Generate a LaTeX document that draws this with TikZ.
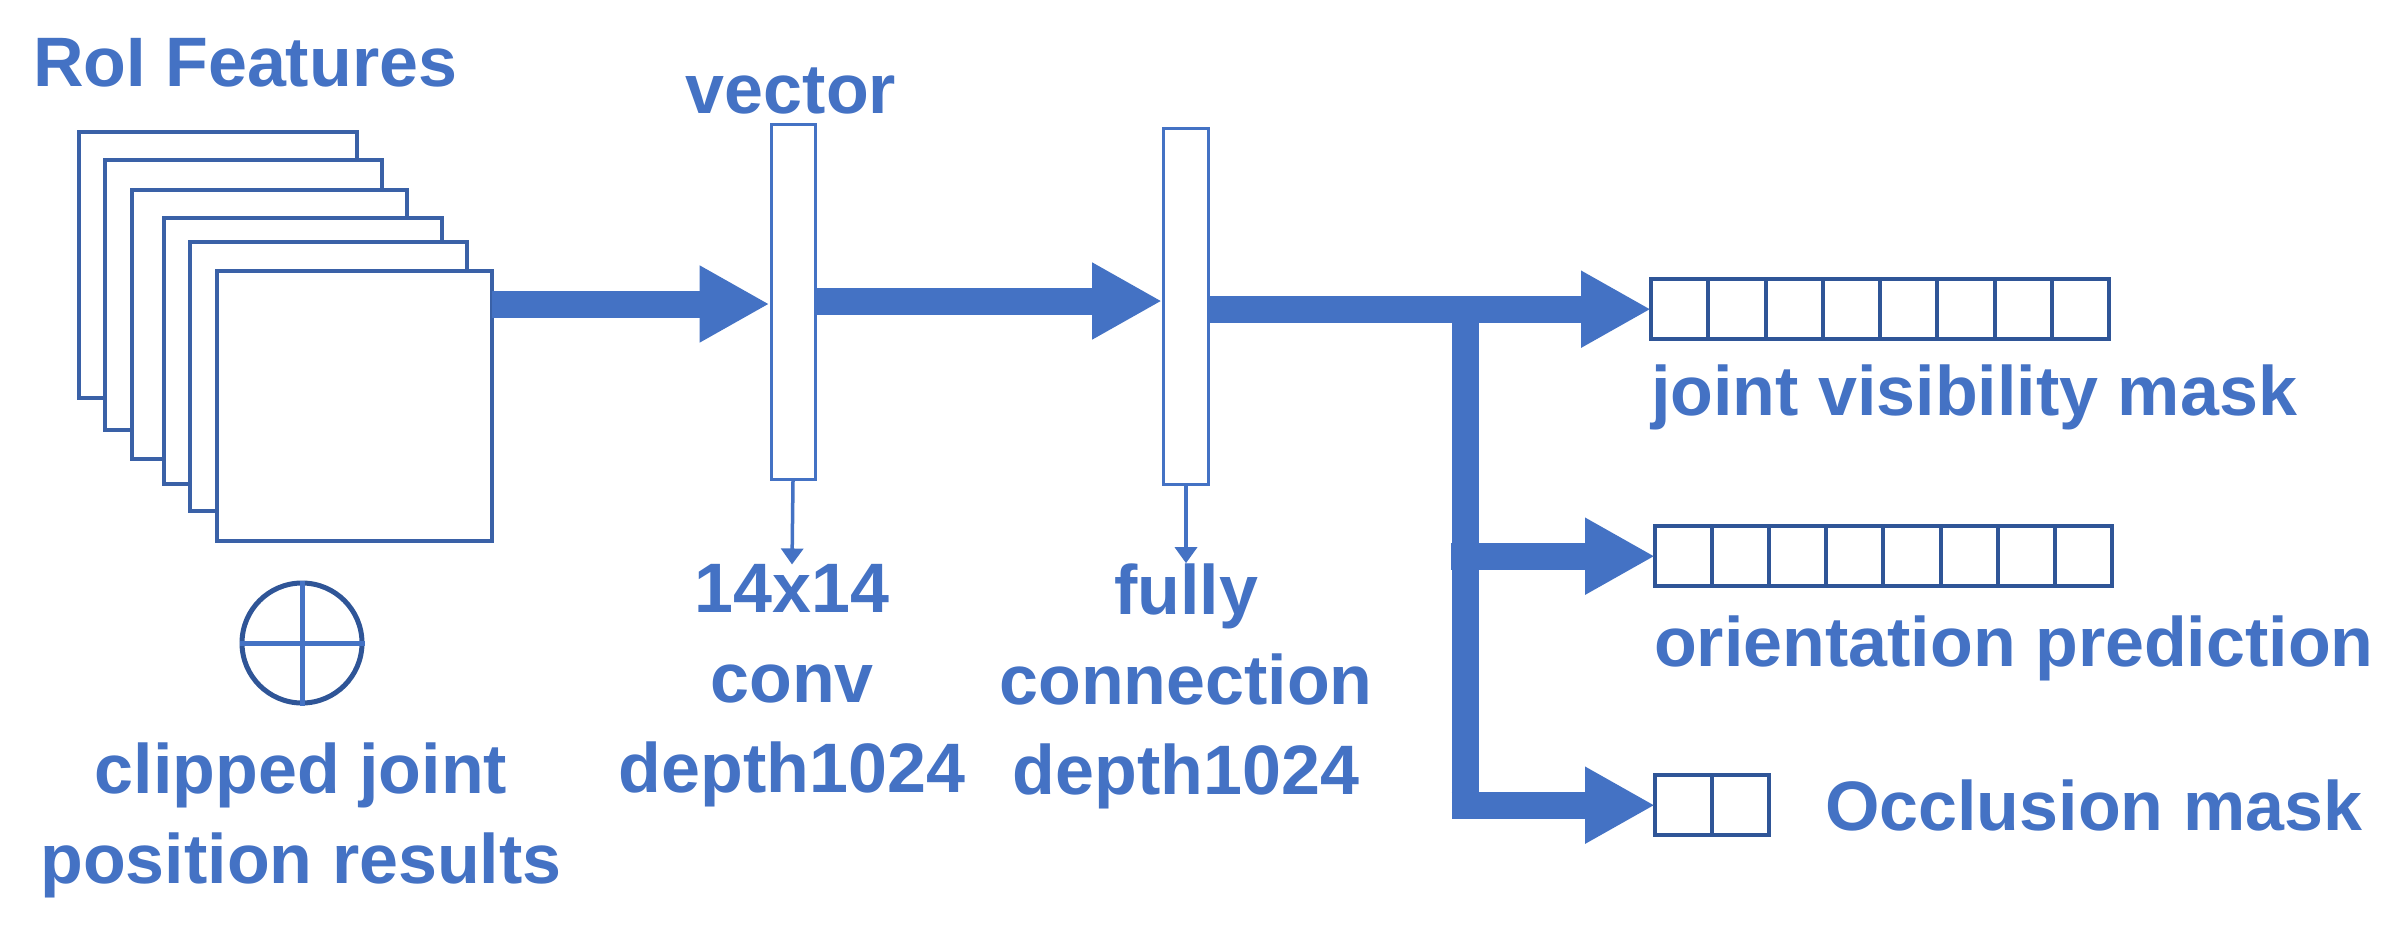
\documentclass[tikz,border=0pt]{standalone}
\usepackage{fontspec}
\setmainfont{Liberation Sans}
\usetikzlibrary{arrows.meta}
\definecolor{cb}{HTML}{4472C4}
\definecolor{cd}{HTML}{2F5597}
\begin{document}
\begin{tikzpicture}[x=1pt,y=-1pt,
  txt/.style={text=cb,font=\fontsize{70}{90}\selectfont\bfseries,inner sep=0pt,align=center},
  frame/.style={draw=cb!85!black,line width=3.5pt,fill=white},
  bar/.style={draw=cb,line width=3pt,fill=white},
  fat/.style={draw=cb,line width=27pt,-{Triangle[length=70pt,width=72pt]}},
  thin/.style={draw=cb,line width=3.5pt,-{Triangle[length=16pt,width=22pt]}},
  cell/.style={draw=cd,line width=4pt,fill=white}]
\useasboundingbox (0,0) rectangle (2395,935);
\fill[white] (0,0) rectangle (2395,935);
\node[txt,anchor=base west] (roi) at (33,86) {RoI Features};
\foreach \i/\a/\b/\c/\d in {1/79/132/357/398,2/105/160/382/430,3/132/190/407/459,4/164/218/442/484,5/190/242/467/511,6/217/271/492/541}{
  \draw[frame] (\a,\b) rectangle (\c,\d);
  \coordinate (f\i) at (\c,304);
}
\node[draw=cd,line width=5pt,circle,minimum size=120pt,inner sep=0pt] (op) at (302,643) {};
\draw[cb,line width=5pt] (op.north) -- (op.south) (op.west) -- (op.east);
\node[txt] (clip) at (301,820) {clipped joint\\position results};
\node[bar,minimum width=44pt,minimum height=355pt,inner sep=0pt] (bar1) at (793,302) {};
\node[bar,minimum width=45pt,minimum height=356pt,inner sep=0pt] (bar2) at (1186,306) {};
\node[txt,anchor=base] (vec) at (791,113) {vector};
\node[txt] (conv) at (792,686) {14x14\\conv\\depth1024};
\node[txt] (fc) at (1186,686) {fully\\connection\\depth1024};
\draw[thin] (bar1.south) -- (conv.north);
\draw[thin] (bar2.south) -- (fc.north);
\draw[fat] (f6) -- (bar1.west|-f6);
\draw[fat] (bar1.east|-0,301) -- (bar2.west|-0,301);
% output boxes
\foreach \n/\x/\y/\k/\w in {b1/1651/279/8/57.25,b2/1655/526/8/57.1,b3/1655/775/2/57}{
  \foreach \j in {1,...,\k}{
    \draw[cell] ({\x+(\j-1)*\w},\y) rectangle ({\x+\j*\w},{\y+60});
  }
  \node[inner sep=0pt,minimum width=\k*\w*1pt,minimum height=60pt,anchor=north west] (\n) at (\x,\y) {};
}
\coordinate (t1) at (1465,309);
\coordinate (t3) at (1465,818.5);
\draw[draw=cb,line width=27pt] (bar2.east|-t1) -- (t1) -- (t3);
\draw[fat] (b1.west-|1451,0) -- (b1.west);
\draw[fat] (b2.west-|1451,0) -- (b2.west);
\draw[fat] (b3.west-|1451.5,0) -- (b3.west);
\node[txt,anchor=west] (l1) at (1651,397) {joint visibility mask};
\node[txt,anchor=west] (l2) at (1654,648) {orientation prediction};
\node[txt,anchor=west] (l3) at (1825,805) {Occlusion mask};
\end{tikzpicture}
\end{document}
